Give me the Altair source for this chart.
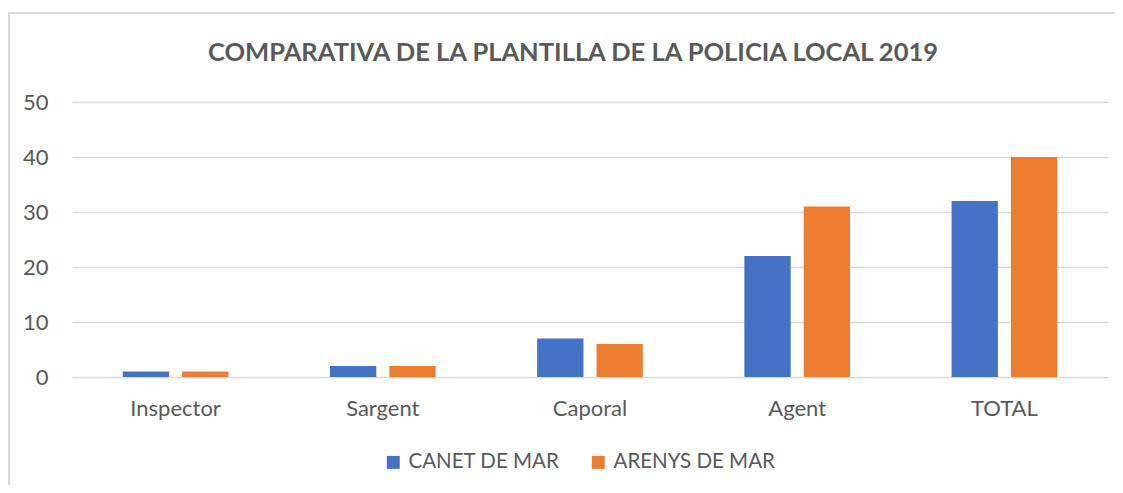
import altair as alt
import pandas as pd

categories = ["Inspector", "Sargent", "Caporal", "Agent", "TOTAL"]
canet = [1, 2, 7, 22, 32]
arenys = [1, 2, 6, 31, 40]
series = ["CANET DE MAR", "ARENYS DE MAR"]
colors = ["#4472C4", "#ED7D31"]
y_ticks = [0, 10, 20, 30, 40, 50]
title_text = "COMPARATIVA DE LA PLANTILLA DE LA POLICIA LOCAL 2019"

rows = []
for c, a, b in zip(categories, canet, arenys):
    rows.append({"cat": c, "serie": series[0], "val": a})
    rows.append({"cat": c, "serie": series[1], "val": b})
df = pd.DataFrame(rows)

FONT = "Lato"
TXT = "#595959"
GRID = "#d9d9d9"

bars = alt.Chart(df).mark_bar().encode(
    x=alt.X("cat:N", sort=categories,
            scale=alt.Scale(paddingInner=0.49, paddingOuter=0.245),
            axis=alt.Axis(title=None, labelAngle=0, ticks=False, domain=False,
                          labelFont=FONT, labelFontSize=22, labelColor=TXT,
                          labelPadding=21, grid=False)),
    xOffset=alt.XOffset("serie:N", sort=series,
                        scale=alt.Scale(paddingInner=0.22, paddingOuter=0)),
    y=alt.Y("val:Q", scale=alt.Scale(domain=[0, 50]),
            axis=alt.Axis(title=None, values=y_ticks, ticks=False, domain=False,
                          labelFont=FONT, labelFontSize=22, labelColor=TXT,
                          labelPadding=24, grid=True, gridColor=GRID, gridWidth=1.5)),
    color=alt.Color("serie:N", sort=series,
                    scale=alt.Scale(domain=series, range=colors),
                    legend=alt.Legend(title=None, orient="none", direction="horizontal",
                                      legendX=311, legendY=350, padding=0,
                                      symbolType="square", symbolSize=169,
                                      symbolStrokeWidth=0, labelOffset=5,
                                      columnPadding=28, labelLimit=400,
                                      labelFont=FONT, labelFontSize=20.5, labelColor=TXT)),
)

one = pd.DataFrame({"k": [0]})
left_border = alt.Chart(one).mark_rule(color=GRID, strokeWidth=2).encode(
    x=alt.value(-63), y=alt.value(-89), y2=alt.value(390))
top_border = alt.Chart(one).mark_rule(color=GRID, strokeWidth=2).encode(
    x=alt.value(-64), x2=alt.value(1050), y=alt.value(-89))

chart = alt.layer(bars, left_border, top_border).properties(
    width=1036, height=275,
    padding={"left": 64, "top": 94, "right": 7, "bottom": 108},
    autosize=alt.AutoSizeParams(type="none"),
    title=alt.TitleParams(title_text, font=FONT, fontSize=25.5, fontWeight="bold",
                          color=TXT, anchor="middle", frame="group", dx=-17, offset=-74,
                          baseline="alphabetic"),
).configure_view(stroke=None)

chart.save("out.html", embed_options={"renderer": "svg", "actions": False})
